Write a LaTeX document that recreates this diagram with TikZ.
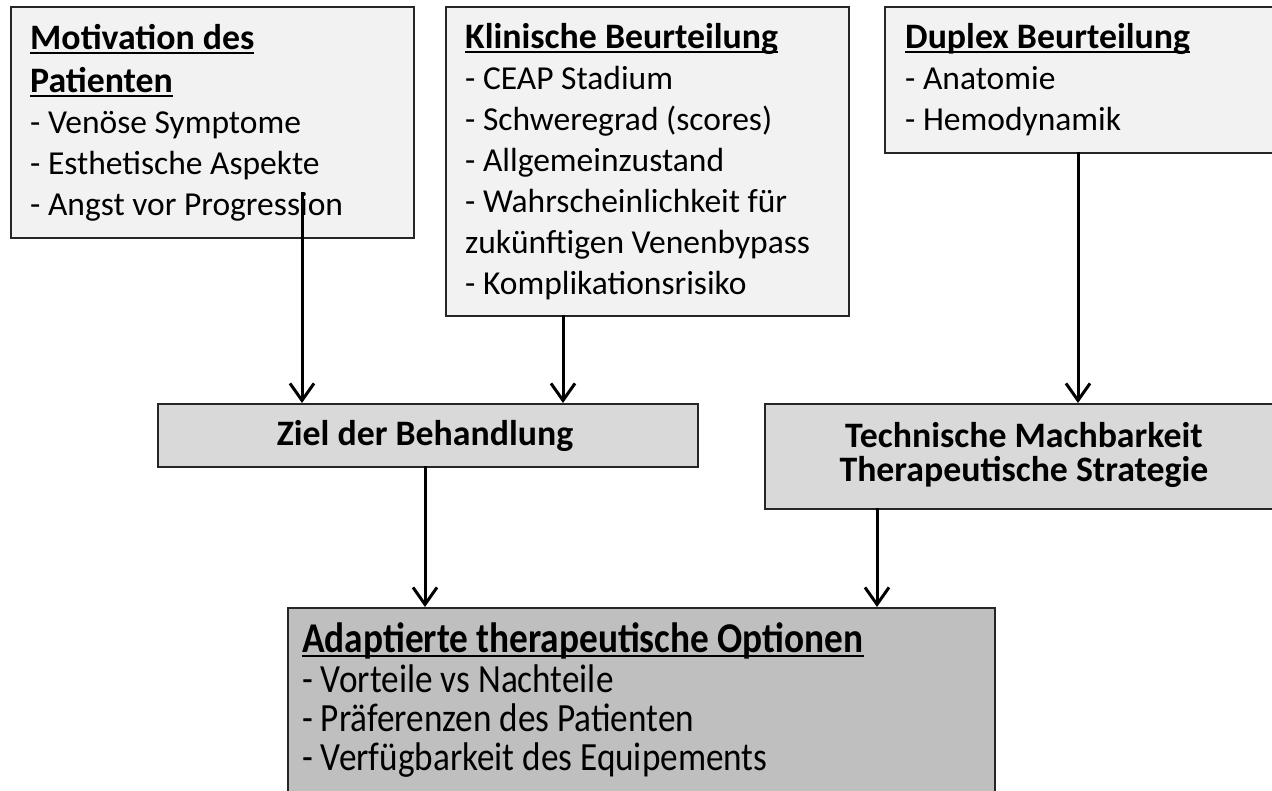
\documentclass[tikz,border=0pt]{standalone}
\usepackage{fontspec}
\setmainfont{Carlito}
\newfontfamily\condfont[FakeStretch=0.88]{Carlito}
\usetikzlibrary{arrows.meta}
\definecolor{lightfill}{HTML}{F2F2F2}
\definecolor{midfill}{HTML}{D9D9D9}
\definecolor{darkfill}{HTML}{BFBFBF}
\newcommand\myul[1]{\setbox0\hbox{#1}\rlap{\rule[-5pt]{\wd0}{1.8pt}}\box0}
\newcommand\ttl[1]{{\fontsize{35.8}{41}\selectfont\bfseries\myul{#1}}}
\tikzset{
  box/.style={draw=black!85, line width=2pt, rectangle, inner sep=0pt, anchor=north west},
  txt/.style={inner sep=0pt, anchor=base west, font=\fontsize{33.5}{41}\selectfont},
  ctxt/.style={inner sep=0pt, anchor=base, font=\fontsize{35.8}{41}\selectfont\bfseries},
  ftxt/.style={inner sep=0pt, anchor=base west, font=\condfont\fontsize{40}{39}\selectfont},
  arr/.style={line width=3pt, -{Straight Barb[length=17pt,width=24pt]}}
}
\begin{document}
\begin{tikzpicture}[x=1pt,y=-1pt]
\useasboundingbox (0,0) rectangle (1272,790);
\clip (0,0) rectangle (1272,790);
% boxes
\node[box, fill=lightfill, minimum width=403pt, minimum height=231pt] (A) at (10,6) {};
\node[box, fill=lightfill, minimum width=403pt, minimum height=309pt] (B) at (445,6) {};
\node[box, fill=lightfill, minimum width=400pt, minimum height=146pt] (C) at (884,6) {};
\node[box, fill=midfill, minimum width=540pt, minimum height=63pt] (D) at (157,403) {};
\node[box, fill=midfill, minimum width=530pt, minimum height=105pt] (E) at (764,403) {};
\node[box, fill=darkfill, minimum width=707pt, minimum height=200pt] (F) at (287,607) {};
% texts A
\node[txt] (a1) at (30,49) {\ttl{Motivation des}};
\node[txt] (a2) at (30,92) {\ttl{Patienten}};
\node[txt] (a3) at (30,133) {- Venöse Symptome};
\node[txt] (a4) at (30,174) {- Esthetische Aspekte};
\node[txt] (a5) at (30,215) {- Angst vor Progression};
% texts B
\node[txt] (b1) at (465,48) {\ttl{Klinische Beurteilung}};
\node[txt] (b2) at (465,89) {- CEAP Stadium};
\node[txt] (b3) at (465,130) {- Schweregrad (scores)};
\node[txt] (b4) at (465,171) {- Allgemeinzustand};
\node[txt] (b5) at (465,212) {- Wahrscheinlichkeit für};
\node[txt] (b6) at (465,253) {zukünftigen Venenbypass};
\node[txt] (b7) at (465,294) {- Komplikationsrisiko};
% texts C
\node[txt] (c1) at (905,48) {\ttl{Duplex Beurteilung}};
\node[txt] (c2) at (905,89) {- Anatomie};
\node[txt] (c3) at (905,130) {- Hemodynamik};
% texts D, E
\node[ctxt] (d1) at (425,445) {Ziel der Behandlung};
\node[ctxt] (e1) at (1024,447) {Technische Machbarkeit};
\node[ctxt] (e2) at (1024,481) {Therapeutische Strategie};
% texts F
\node[ftxt] (f1) at (302,652) {\fontsize{42.4}{39}\selectfont\bfseries\myul{Adaptierte therapeutische Optionen}};
\node[ftxt] (f2) at (302,692) {- Vorteile vs Nachteile};
\node[ftxt] (f3) at (302,731) {- Präferenzen des Patienten};
\node[ftxt] (f4) at (302,770) {- Verfügbarkeit des Equipements};
% connectors
\coordinate (pa) at (302,192);
\coordinate (pb) at (563,315);
\coordinate (pc) at (1078,152);
\coordinate (pd) at (425,466);
\coordinate (pe) at (877,508);
\draw[arr] (pa) -- (pa |- D.north);
\draw[arr] (pb) -- (pb |- D.north);
\draw[arr] (pc) -- (pc |- E.north);
\draw[arr] (pd) -- (pd |- F.north);
\draw[arr] (pe) -- (pe |- F.north);
\end{tikzpicture}
\end{document}
